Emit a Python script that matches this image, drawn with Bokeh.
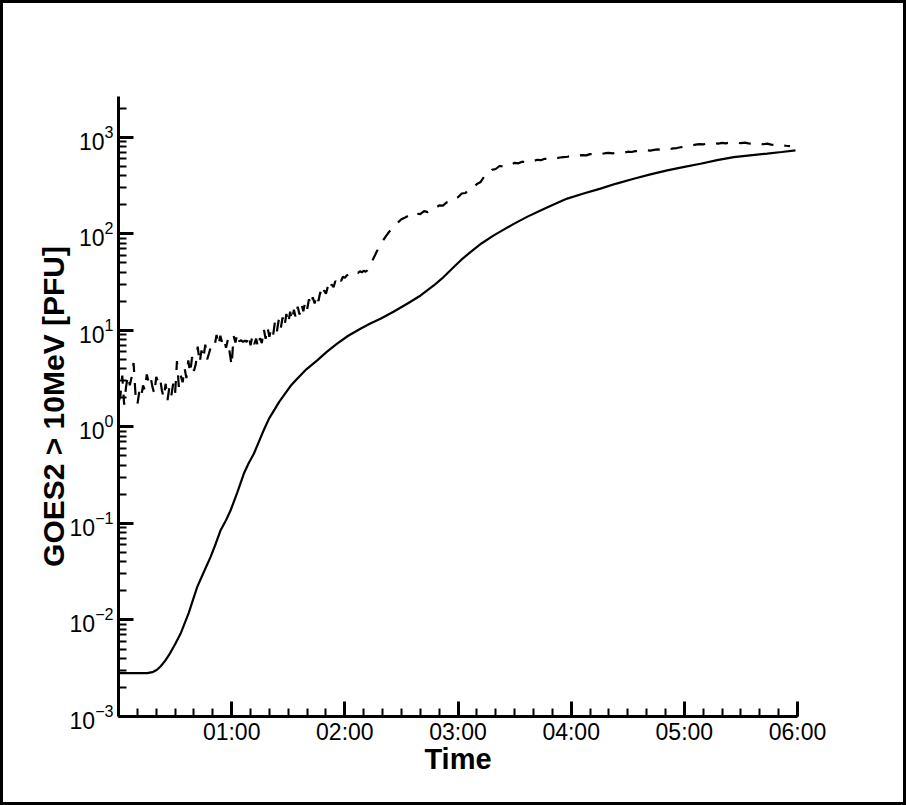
from bokeh.plotting import figure
from bokeh.models import Range1d, FixedTicker
from bokeh.embed import file_html
from bokeh.resources import INLINE

# ---- data -------------------------------------------------------------
# simulated flux (solid), time in hours
model_hours = [0.0, 0.254, 0.30, 0.34, 0.371, 0.41, 0.444, 0.50, 0.548, 0.62,
               0.695, 0.755, 0.813, 0.86, 0.901, 0.95, 0.990, 1.05, 1.107, 1.15,
               1.196, 1.24, 1.284, 1.33, 1.38, 1.42, 1.461, 1.52, 1.579, 1.66,
               1.756, 1.84, 1.932, 2.03, 2.138, 2.22, 2.315, 2.43, 2.551, 2.67,
               2.786, 2.87, 2.963, 3.03, 3.110, 3.21, 3.316, 3.40, 3.493, 3.61,
               3.729, 3.85, 3.965, 4.11, 4.259, 4.40, 4.553, 4.70, 4.849, 5.00,
               5.143, 5.29, 5.437, 5.58, 5.732, 5.86, 5.982]
model_flux = [2.81e-3, 2.81e-3, 2.88e-3, 3.05e-3, 3.30e-3, 3.75e-3, 4.29e-3, 5.6e-3, 7.19e-3, 0.0118,
              0.0219, 0.0316, 0.0448, 0.062, 0.0845, 0.108, 0.136, 0.21, 0.327, 0.42,
              0.527, 0.70, 0.93, 1.22, 1.52, 1.82, 2.12, 2.65, 3.16, 3.95,
              4.89, 6.0, 7.28, 8.8, 10.4, 11.7, 13.2, 15.6, 18.9, 23.0,
              29.2, 35.5, 45.3, 54.0, 64.7, 80.0, 96.4, 110.0, 127.0, 150.0,
              175.0, 203.0, 232.0, 262.0, 294.0, 332.0, 373.0, 413.0, 455.0, 494.0,
              533.0, 580.0, 625.0, 652.0, 678.0, 705.0, 733.0]

# observed GOES flux (dashed): 1-minute samples for 00:00-02:30, then 2-minute samples
obs_flux_1min = [
    1.8, 2.1, 3.4, 1.7, 2.6, 3.4, 2.7, 3.3, 4.6, 2.2,
    1.7, 2.3, 2.0, 2.7, 2.4, 3.5, 2.9, 3.3, 2.6, 2.2,
    3.3, 2.9, 3.2, 2.4, 2.0, 2.8, 1.9, 2.6, 2.1, 2.8,
    2.2, 4.8, 2.6, 3.4, 2.9, 4.1, 3.2, 4.9, 3.6, 5.3,
    3.8, 4.5, 6.8, 4.6, 6.2, 5.1, 7.1, 5.0, 5.8, 6.8,
    6.5, 7.0, 9.0, 7.0, 8.8, 7.4, 8.2, 6.6, 8.0, 5.8,
    4.3, 8.8, 7.5, 9.3, 7.7, 7.9, 7.6, 7.8, 7.6, 9.0,
    7.0, 8.8, 7.2, 8.2, 6.6, 8.3, 7.4, 10.4, 8.2, 10.8,
    8.6, 10.5, 9.0, 12.4, 9.8, 13.0, 10.4, 13.6, 11.0, 14.8,
    11.8, 15.6, 12.6, 16.4, 13.4, 17.6, 14.6, 18.8, 15.8, 19.8,
    16.6, 21.0, 18.0, 22.0, 19.0, 23.5, 20.2, 25.0, 21.8, 26.0,
    24.0, 28.5, 25.5, 30.0, 28.0, 32.5, 30.5, 34.5, 32.5, 36.0,
    35.0, 37.0, 38.0, 37.5, 39.0, 38.5, 40.0, 39.5, 41.0, 40.0,
    41.5, 40.5, 42.0, 45.0, 49.0, 55.0, 60.0, 66.0, 72.0, 78.0,
    84.0, 90.0, 96.0, 102.0, 108.0, 113.0, 118.0, 124.0, 130.0, 136.0,
    142.0,
]
obs_flux_2min = [
    148.0, 155.0, 150.0, 162.0, 160.0, 172.0, 168.0, 182.0, 185.0, 197.0,
    196.0, 212.0, 215.0, 235.0, 240.0, 262.0, 265.0, 292.0, 300.0, 328.0,
    345.0, 395.0, 410.0, 460.0, 470.0, 505.0, 500.0, 525.0, 522.0, 545.0,
    538.0, 560.0, 552.0, 572.0, 568.0, 585.0, 580.0, 600.0, 596.0, 610.0,
    605.0, 618.0, 625.0, 630.0, 640.0, 635.0, 648.0, 655.0, 650.0, 670.0,
    665.0, 680.0, 672.0, 685.0, 690.0, 682.0, 698.0, 700.0, 694.0, 710.0,
    705.0, 720.0, 715.0, 728.0, 735.0, 728.0, 742.0, 750.0, 745.0, 758.0,
    752.0, 768.0, 775.0, 790.0, 800.0, 815.0, 825.0, 840.0, 850.0, 845.0,
    860.0, 855.0, 868.0, 862.0, 875.0, 868.0, 880.0, 872.0, 878.0, 870.0,
    882.0, 866.0, 860.0, 872.0, 855.0, 848.0, 860.0, 840.0, 835.0, 845.0,
    825.0, 818.0, 812.0,
]
obs_minutes = list(range(0, len(obs_flux_1min))) + \
    [150 + 2 * (i + 1) for i in range(len(obs_flux_2min))]
obs_flux = obs_flux_1min + obs_flux_2min
obs_hours = [m / 60.0 for m in obs_minutes]

x_tick_hours = [1, 2, 3, 4, 5, 6]
x_tick_labels = ["01:00", "02:00", "03:00", "04:00", "05:00", "06:00"]
x_minor_step_minutes = 10
y_decades = [-3, -2, -1, 0, 1, 2, 3]

x_label = "Time"
y_label = "GOES2 > 10MeV [PFU]"

# ---- figure -----------------------------------------------------------
p = figure(width=906, height=805, y_axis_type="log",
           x_range=Range1d(0, 6), y_range=Range1d(1e-3, 2650),
           output_backend="svg", toolbar_location=None,
           min_border_left=115, min_border_right=112,
           min_border_top=93, min_border_bottom=92)
p.styles = {"border": "3px solid black", "box-sizing": "border-box"}
p.background_fill_color = "white"
p.border_fill_color = "white"
p.outline_line_color = None
p.xgrid.visible = False
p.ygrid.visible = False

p.line(model_hours, model_flux, line_color="black", line_width=2.2)
p.line(obs_hours, obs_flux, line_color="black", line_width=2.2, line_dash="12 11")

x_minor = [m / 60.0 for m in range(0, 361, x_minor_step_minutes)]
p.xaxis.ticker = FixedTicker(ticks=x_tick_hours, minor_ticks=x_minor)
p.xaxis.major_label_overrides = {t: l for t, l in zip(x_tick_hours, x_tick_labels)}

y_major = [10.0 ** d for d in y_decades]
y_minor = [k * 10.0 ** d for d in y_decades for k in range(2, 10) if k * 10.0 ** d < 2650]
p.yaxis.ticker = FixedTicker(ticks=y_major, minor_ticks=y_minor)

for ax in (p.xaxis[0], p.yaxis[0]):
    ax.axis_line_width = 3
    ax.axis_line_color = "black"
    ax.major_tick_in = 15
    ax.major_tick_out = 0
    ax.minor_tick_in = 8
    ax.minor_tick_out = 0
    ax.major_tick_line_width = 3
    ax.minor_tick_line_width = 2
    ax.major_tick_line_color = "black"
    ax.minor_tick_line_color = "black"
    ax.major_label_text_font = "Liberation Sans"
    ax.major_label_text_font_size = "23px"
    ax.major_label_text_color = "black"
    ax.axis_label_text_font = "Liberation Sans"
    ax.axis_label_text_font_style = "bold"
    ax.axis_label_text_color = "black"

p.xaxis.axis_label = x_label
p.yaxis.axis_label = y_label
p.xaxis.axis_label_text_font_size = "29px"
p.yaxis.axis_label_text_font_size = "30px"
p.xaxis.major_label_standoff = 2
p.xaxis.axis_label_standoff = -5
p.yaxis.major_label_standoff = 5
p.yaxis.axis_label_standoff = -3

open("out.html", "w").write(file_html(p, INLINE))
